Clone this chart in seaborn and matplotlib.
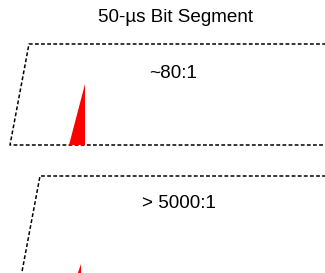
import numpy as np
import pandas as pd
import seaborn as sns
import matplotlib.pyplot as plt

# chart text and spike values
title = "50-µs Bit Segment"
panel_labels = ["~80:1", "> 5000:1"]
spike_height = [61, 13]    # spike height above baseline (px)
spike_width = [16, 4.5]    # spike base width (px)

sns.set_theme(style="white")
plt.rcParams['font.family'] = ['Liberation Sans', 'DejaVu Sans']

fig = plt.figure(figsize=(3.25, 2.73), dpi=100)
ax = fig.add_axes([0, 0, 1, 1])

# panel geometry in pixel coordinates
panels = [
    dict(top=44, tl=29, bot=145, bl=10, sx=85, lx=173, ly=73),
    dict(top=176, tl=40, bot=277, bl=21, sx=81, lx=179, ly=203),
]

for p, lab, h, w in zip(panels, panel_labels, spike_height, spike_width):
    # dashed skewed frame (open on the right)
    outline = pd.DataFrame({
        "x": [340, p["tl"], p["bl"], 340],
        "y": [p["top"], p["top"], p["bot"], p["bot"]],
    })
    sns.lineplot(data=outline, x="x", y="y", sort=False, estimator=None,
                 color="black", lw=1.1, linestyle=(0, (2.5, 1.5)), ax=ax)
    # red spike
    ax.fill([p["sx"] - w, p["sx"], p["sx"]], [p["bot"], p["bot"] - h, p["bot"]],
            color="red", lw=0, zorder=3)
    ax.text(p["lx"], p["ly"], lab, ha="center", va="center",
            fontsize=13.6, color="black")

ax.text(176, 18, title, ha="center", va="center", fontsize=13.6, color="black")

ax.set_xlim(0, 325)
ax.set_ylim(273, 0)
ax.axis("off")

fig.savefig("out.png", dpi=100)
